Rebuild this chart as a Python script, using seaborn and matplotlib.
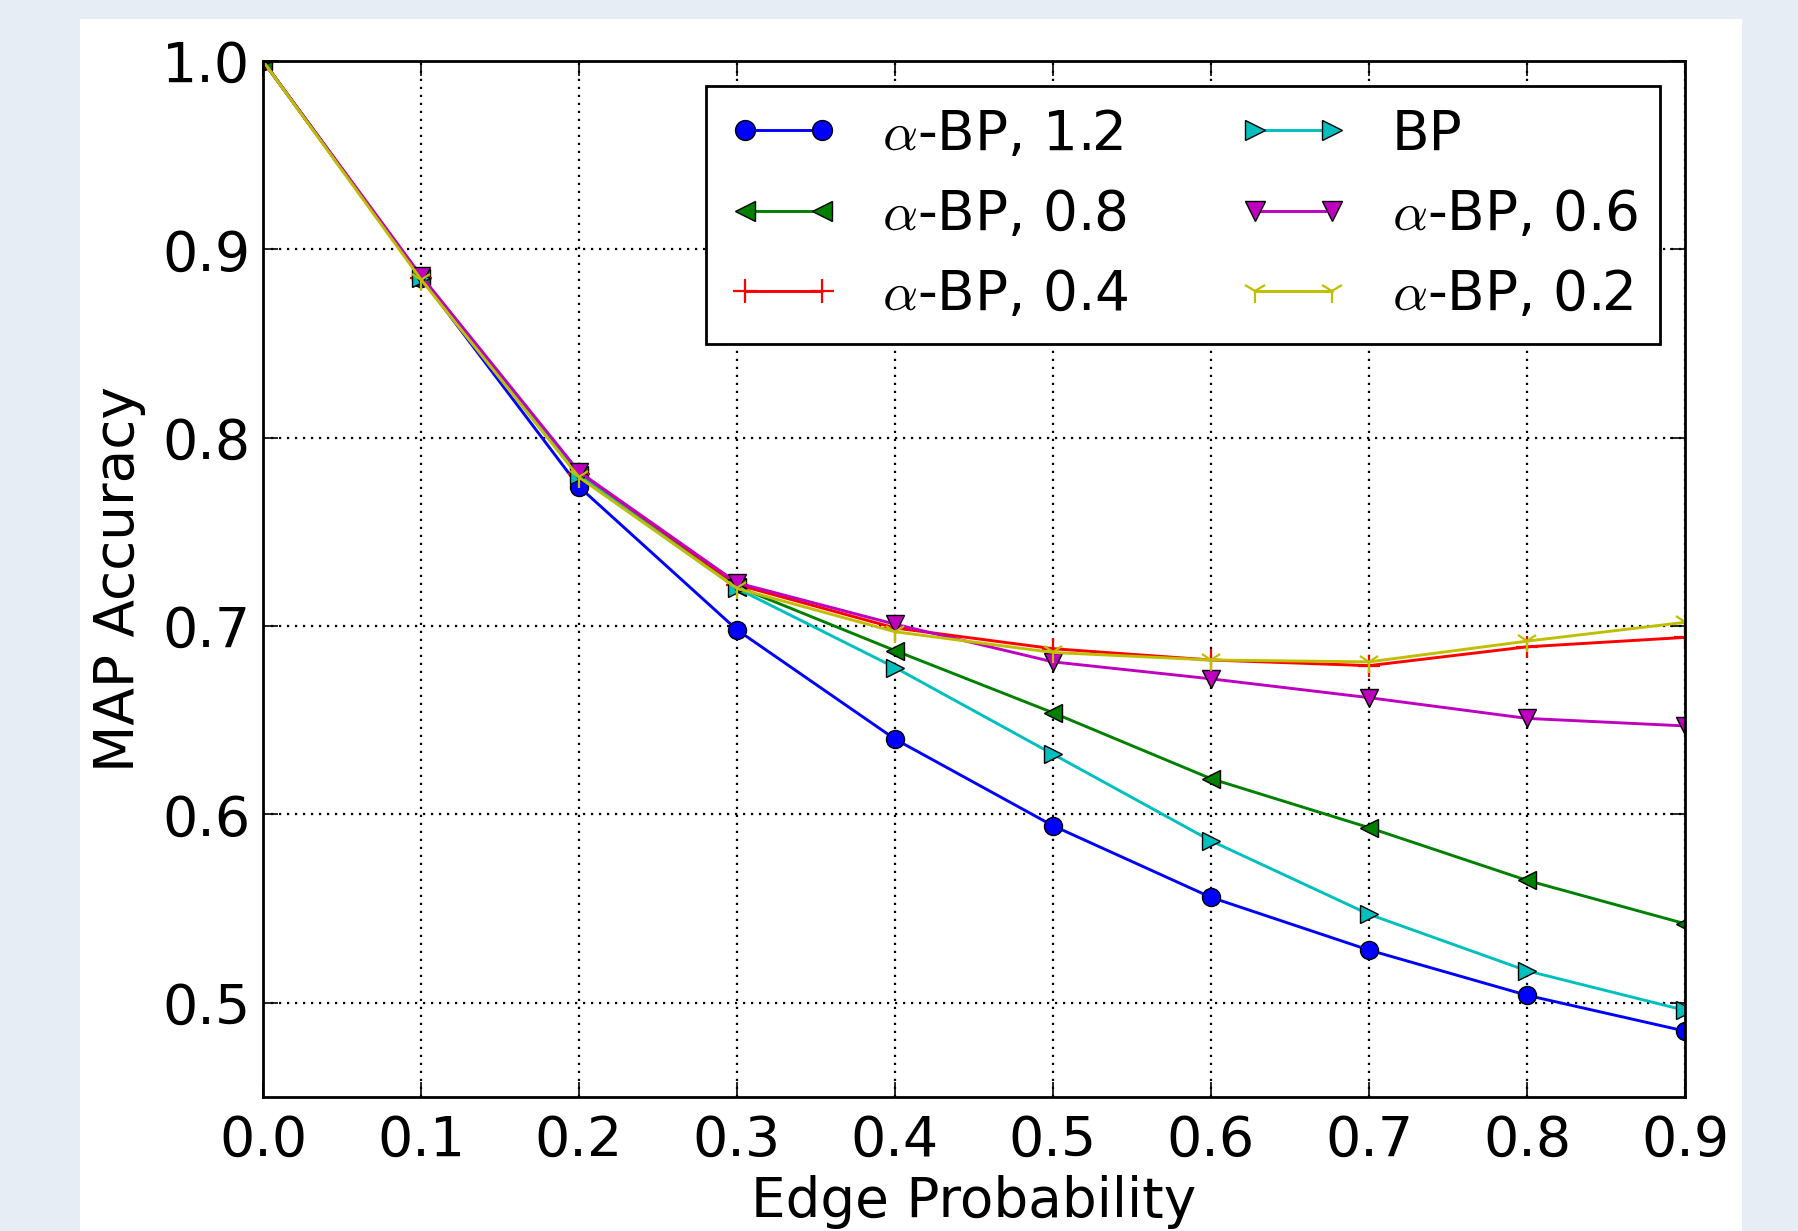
import numpy as np
import pandas as pd
import matplotlib
matplotlib.use("Agg")
import matplotlib.pyplot as plt
from matplotlib.patches import Rectangle
import seaborn as sns

# edge probability on the x axis
edge_prob = [0.0, 0.1, 0.2, 0.3, 0.4, 0.5, 0.6, 0.7, 0.8, 0.9]

# MAP accuracy per method
acc_ab_12 = [1.0, 0.885, 0.774, 0.698, 0.640, 0.594, 0.556, 0.528, 0.504, 0.485]
acc_ab_08 = [1.0, 0.885, 0.780, 0.721, 0.687, 0.654, 0.619, 0.593, 0.565, 0.542]
acc_ab_04 = [1.0, 0.885, 0.781, 0.722, 0.699, 0.688, 0.682, 0.679, 0.689, 0.694]
acc_bp    = [1.0, 0.885, 0.780, 0.720, 0.678, 0.632, 0.586, 0.547, 0.517, 0.496]
acc_ab_06 = [1.0, 0.886, 0.782, 0.723, 0.701, 0.681, 0.672, 0.662, 0.651, 0.647]
acc_ab_02 = [1.0, 0.884, 0.779, 0.720, 0.697, 0.686, 0.682, 0.681, 0.692, 0.702]

labels = [r"$\alpha$-BP, 1.2", r"$\alpha$-BP, 0.8", r"$\alpha$-BP, 0.4",
          "BP", r"$\alpha$-BP, 0.6", r"$\alpha$-BP, 0.2"]
series = [acc_ab_12, acc_ab_08, acc_ab_04, acc_bp, acc_ab_06, acc_ab_02]
colors = ["b", "g", "r", "c", "m", "y"]
markers = ["o", "<", "+", ">", "v", "1"]

sns.set_style("ticks")
plt.rcParams["font.family"] = ["DejaVu Sans"]
plt.rcParams["mathtext.fontset"] = "cm"
plt.rcParams["text.color"] = "k"
plt.rcParams["axes.labelcolor"] = "k"

fig = plt.figure(figsize=(17.99, 12.31), dpi=100)
fig.patch.set_facecolor("#e7edf5")
# white page behind the plot
bg = fig.add_axes([80 / 1799, 0, (1742 - 80) / 1799, 1 - 19 / 1231], zorder=-5)
bg.set_axis_off()
bg.add_patch(Rectangle((0, 0), 1, 1, transform=bg.transAxes, facecolor="white", edgecolor="none"))

ax = fig.add_axes([263 / 1799, 1 - 1097 / 1231, (1685 - 263) / 1799, (1097 - 61) / 1231])
ax.set_facecolor("white")

for vals, lab, col, mk in zip(series, labels, colors, markers):
    df = pd.DataFrame({"p": edge_prob, "acc": vals})
    thin = mk in ("+", "1")
    sns.lineplot(data=df, x="p", y="acc", ax=ax, color=col, marker=mk,
                 markersize=16 if thin else 13,
                 markeredgecolor=col if thin else "k",
                 markeredgewidth=1.6 if thin else 1.0,
                 linewidth=2.1, label=lab, legend=False)

ax.set_xlim(0.0, 0.9)
ax.set_ylim(0.45, 1.0)
ax.set_xticks(edge_prob)
ax.set_yticks([0.5, 0.6, 0.7, 0.8, 0.9, 1.0])
ax.set_xticklabels([f"{v:.1f}" for v in edge_prob])
ax.set_yticklabels([f"{v:.1f}" for v in [0.5, 0.6, 0.7, 0.8, 0.9, 1.0]])
ax.grid(True, color="k", linestyle=(0, (1, 2.6)), linewidth=1.6)

for sp in ax.spines.values():
    sp.set_visible(True)
    sp.set_color("k")
    sp.set_linewidth(2)

ax.tick_params(axis="both", which="major", direction="in", length=11, width=1.2,
               top=True, right=True, labelsize=40, colors="k")
ax.tick_params(axis="x", pad=12)
ax.tick_params(axis="y", pad=9)

ax.set_xlabel("Edge Probability", fontsize=39.5, color="k")
ax.set_ylabel("MAP Accuracy", fontsize=39.5, color="k")
ax.xaxis.set_label_coords(0.5, -0.075)
ax.yaxis.set_label_coords(-0.082, 0.5)

leg = ax.legend(loc="upper right", ncol=2, fontsize=39.5, numpoints=2,
                handlelength=2.0, handletextpad=0.8, columnspacing=2.0,
                labelspacing=0.48, borderpad=0.4, borderaxespad=0.45,
                frameon=True, fancybox=False, framealpha=1, markerscale=1.1)
leg.get_frame().set_edgecolor("k")
leg.get_frame().set_linewidth(2)
for t in leg.get_texts():
    t.set_color("k")

fig.savefig("out.png", dpi=100, facecolor=fig.get_facecolor())
